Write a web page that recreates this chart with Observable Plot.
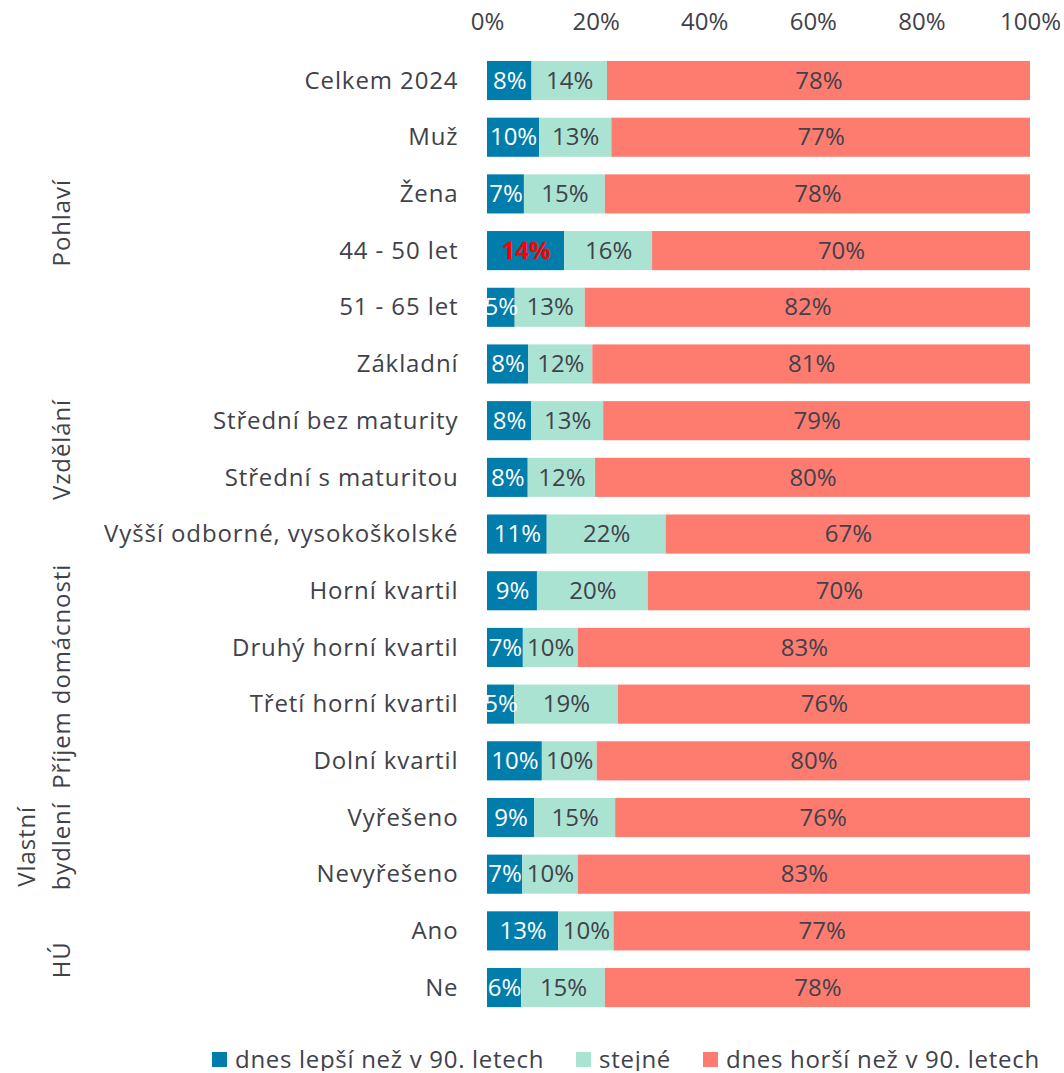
<!DOCTYPE html>
<html>
<head>
<meta charset="utf-8">
<script src="https://cdn.jsdelivr.net/npm/d3@7"></script>
<script src="https://cdn.jsdelivr.net/npm/@observablehq/plot@0.6"></script>
<style>
  body { margin: 0; background: #fff; font-family: "Open Sans", sans-serif; color: #41414a; }
  #chart svg { display: block; }
  .ylab text, .grp text { letter-spacing: 0.9px; }
  #legend { display: flex; align-items: center; margin-left: 212px; margin-top: 12px; width: 852px; white-space: nowrap; font-size: 24px; line-height: 24px; letter-spacing: 0.7px; }
  #legend .item { display: flex; align-items: center; flex: none; margin-right: 32px; }
  #legend .item:last-child { margin-right: 0; }
  #legend .sw { width: 15px; height: 15px; margin-right: 8px; flex: none; }
</style>
</head>
<body>
<div id="chart"></div>
<div id="legend"></div>
<script>
const categories = [
  "Celkem 2024", "Muž", "Žena", "44 - 50 let", "51 - 65 let",
  "Základní", "Střední bez maturity", "Střední s maturitou", "Vyšší odborné, vysokoškolské",
  "Horní kvartil", "Druhý horní kvartil", "Třetí horní kvartil", "Dolní kvartil",
  "Vyřešeno", "Nevyřešeno", "Ano", "Ne"
];
const better = [8.2, 9.6, 6.8, 14.2, 5.1, 7.6, 8.1, 7.5, 11.0, 9.2, 6.6, 5.0, 10.1, 8.7, 6.5, 13.1, 6.3];
const same   = [13.9, 13.3, 14.9, 16.2, 12.9, 11.8, 13.3, 12.4, 21.9, 20.4, 10.1, 19.1, 10.1, 14.9, 10.2, 10.2, 15.4];
const worse  = [77.9, 77.1, 78.3, 69.6, 82.0, 80.6, 78.6, 80.1, 67.1, 70.4, 83.3, 75.9, 79.8, 76.4, 83.3, 76.7, 78.3];
const seriesKeys = ["better", "same", "worse"];
const seriesNames = ["dnes lepší než v 90. letech", "stejné", "dnes horší než v 90. letech"];
const seriesColors = ["#007dab", "#abe3d3", "#fe7b70"];
const xTicks = [0, 20, 40, 60, 80, 100];
// group labels, placed between the two listed rows
const groupLabels = ["Pohlaví", "Vzdělání", "Příjem domácnosti", "Vlastní\nbydlení", "HÚ"];
const groupAnchors = ["Žena", "Střední bez maturity", "Druhý horní kvartil", "Vyřešeno", "Ano"];
const highlight = { cat: "44 - 50 let", series: "better" };

const textColor = "#41414a";
const seriesValues = { better, same, worse };
const rows = [];
categories.forEach((cat, i) => {
  seriesKeys.forEach(s => rows.push({ cat, series: s, value: seriesValues[s][i] }));
});
const groups = groupLabels.map((label, i) => ({ label, anchor: groupAnchors[i] }));
const isHL = d => d.cat === highlight.cat && d.series === highlight.series;

const W = 1064, H = 1035, mTop = 43.4, mBottom = 10.3, pad = 0.31;
const step = (H - mTop - mBottom) / (categories.length + pad);

const chart = Plot.plot({
  width: W,
  height: H,
  marginLeft: 487,
  marginRight: 34,
  marginTop: mTop,
  marginBottom: mBottom,
  style: { fontSize: "24px", fontFamily: "'Open Sans', sans-serif", color: textColor, background: "#fff" },
  x: { domain: [0, 100], round: false, ticks: xTicks, label: null },
  y: { domain: categories, padding: pad, round: false, label: null },
  color: { domain: seriesKeys, range: seriesColors },
  marks: [
    Plot.axisX({ anchor: "top", ticks: xTicks, tickFormat: d => d + "%", tickSize: 0, tickPadding: 14, label: null, fontSize: 24 }),
    Plot.axisY({ className: "ylab", tickSize: 0, tickPadding: 29, label: null, fontSize: 24 }),
    Plot.barX(rows, Plot.stackX({ x: "value", y: "cat", fill: "series", order: null })),
    Plot.text(rows, Plot.stackX({
      x: "value", y: "cat", z: "series", order: null,
      text: d => isHL(d) ? null : Math.round(d.value) + "%",
      fill: d => d.series === "better" ? "#ffffff" : textColor,
      fontSize: 24
    })),
    Plot.text(rows, Plot.stackX({
      x: "value", y: "cat", z: "series", order: null,
      text: d => isHL(d) ? Math.round(d.value) + "%" : null,
      fill: "#ff0000", fontWeight: "bold", fontSize: 24
    })),
    Plot.text(groups, {
      className: "grp",
      y: "anchor", text: "label", frameAnchor: "left",
      dx: -418, dy: step / 2, rotate: -90,
      textAnchor: "middle", lineAnchor: "bottom", lineHeight: 1.45,
      fill: textColor, fontSize: 24
    })
  ]
});
document.getElementById("chart").appendChild(chart);

const legend = document.getElementById("legend");
seriesKeys.forEach((s, i) => {
  const item = document.createElement("div");
  item.className = "item";
  const sw = document.createElement("span");
  sw.className = "sw";
  sw.style.background = seriesColors[i];
  const lab = document.createElement("span");
  lab.textContent = seriesNames[i];
  item.appendChild(sw);
  item.appendChild(lab);
  legend.appendChild(item);
});
</script>
</body>
</html>
